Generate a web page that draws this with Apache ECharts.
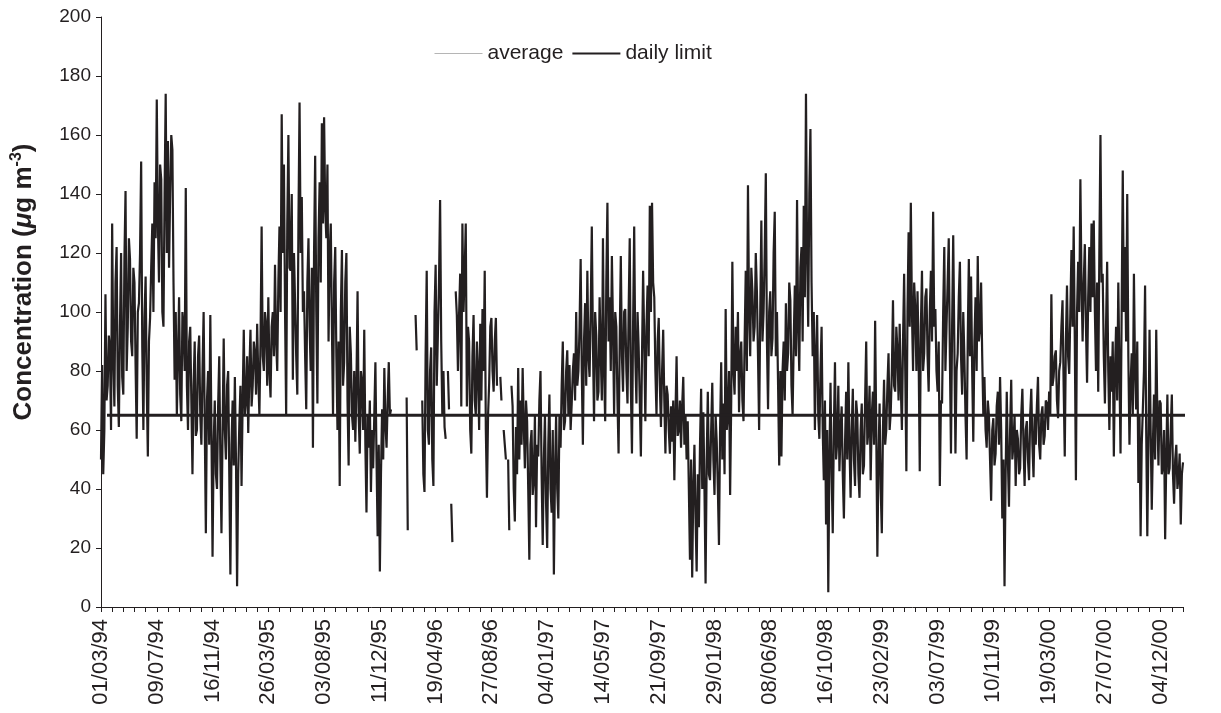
<!DOCTYPE html>
<html>
<head>
<meta charset="utf-8">
<script src="https://cdn.jsdelivr.net/npm/echarts@6.0.0/dist/echarts.min.js"></script>
<style>
  html, body { margin: 0; background: #fff; }
  #chart { width: 1221px; height: 713px; }
</style>
</head>
<body>
<div id="chart"></div>
<script>
// x axis: days since 01/03/94, minor tick every 26 days, label every 130
const TICK_DAYS = 26
const LABEL_DAYS = 130
const STEP = TICK_DAYS / 10 // one reading every 2.6 days
const tickLabels = ['01/03/94', '09/07/94', '16/11/94', '26/03/95', '03/08/95', '11/12/95', '19/04/96',
  '27/08/96', '04/01/97', '14/05/97', '21/09/97', '29/01/98', '08/06/98', '16/10/98', '23/02/99',
  '03/07/99', '10/11/99', '19/03/00', '27/07/00', '04/12/00']

// concentration readings (ug/m3), one block per labelled interval
const from010394 = [50, 82, 45, 60, 106, 70, 75, 92, 88, 60, 130, 85, 68, 110, 122, 75, 61, 95, 120, 78,
  72, 118, 141, 80, 95, 125, 118, 90, 85, 115, 110, 82, 57, 100, 103, 120, 151, 88, 60, 98,
  112, 75, 51, 90, 98, 115, 130, 100, 144, 125]
const from090794 = [172, 130, 110, 150, 145, 100, 95, 140, 174, 120, 158, 115, 140, 160, 155, 110, 77, 100, 65, 85,
  105, 72, 63, 100, 95, 80, 142, 75, 60, 90, 95, 70, 45, 75, 90, 58, 60, 85, 92, 65,
  55, 80, 100, 62, 25, 70, 80, 55, 99, 60]
const from161194 = [17, 55, 70, 45, 40, 68, 85, 50, 25, 60, 91, 60, 50, 75, 80, 45, 11, 55, 70, 48,
  78, 50, 7, 45, 62, 75, 41, 70, 94, 65, 70, 85, 59, 80, 94, 68, 75, 90, 86, 72,
  96, 78, 65, 90, 129, 85, 80, 100, 96, 75]
const from260395 = [105, 80, 71, 95, 100, 85, 116, 90, 80, 110, 129, 100, 167, 120, 150, 100, 65, 130, 160, 115,
  114, 140, 77, 120, 103, 85, 72, 130, 171, 120, 139, 100, 107, 85, 67, 110, 125, 95, 80, 115,
  54, 120, 153, 100, 69, 125, 144, 110, 164, 130]
const from030895 = [166, 135, 125, 150, 90, 120, 130, 95, 65, 110, 122, 85, 60, 90, 41, 100, 121, 75, 83, 110,
  120, 70, 48, 95, 86, 65, 60, 80, 56, 75, 107, 65, 52, 80, 76, 60, 94, 55, 32, 65,
  54, 70, 39, 60, 47, 65, 83, 50, 24, 55]
const from111295 = [12, 45, 67, 50, 81, 62, 54, 70, 83, 65, 67, null, null, null, null, null, null, null, null, null,
  null, null, null, null, 71, 26, null, null, null, null, null, null, 99, 87, null, null, null, null, 70, 45,
  39, 85, 114, 60, 55, 80, 88, 50, 41, 100]
const from190496 = [116, 75, 92, 110, 138, 90, 65, 80, 61, 57, null, 80, 67, null, 35, 22, null, null, 107, 99,
  80, 99, 113, 68, 130, 100, 113, 130, 68, 95, 90, 60, 52, 85, 99, 70, 65, 90, 80, 60,
  96, 70, 101, 80, 114, 60, 37, 65, 76, 95]
const from270896 = [98, 80, 73, 90, 98, 75, null, null, 78, 70, null, 60, 55, 50, null, 50, 26, null, 75, 68,
  40, 29, 61, 45, 81, 50, 70, 55, 81, 62, 47, 70, 63, 40, 16, 55, 60, 38, 43, 65,
  27, 55, 51, 70, 80, 45, 21, 50, 65, 35]
const from040197 = [20, 55, 72, 40, 32, 60, 11, 45, 65, 40, 30, 65, 54, 75, 90, 60, 63, 80, 87, 65,
  82, 60, 69, 80, 86, 70, 100, 75, 80, 95, 118, 80, 55, 90, 103, 75, 114, 85, 78, 100,
  129, 90, 63, 100, 92, 70, 73, 105, 86, 70]
const from140597 = [125, 80, 63, 110, 137, 90, 105, 80, 119, 95, 65, 100, 95, 70, 52, 90, 119, 85, 73, 100,
  101, 80, 69, 100, 125, 75, 52, 95, 129, 85, 69, 100, 88, 70, 51, 85, 114, 90, 63, 95,
  109, 85, 136, 100, 137, 110, 105, 80, 65, 90]
const from210997 = [98, 75, 61, 80, 94, 70, 52, 75, 72, 60, 52, 68, 56, 70, 43, 65, 85, 58, 60, 70,
  54, 68, 78, 55, 65, 50, 63, 40, 16, 50, 10, 40, 55, 30, 12, 45, 27, 55, 74, 40,
  66, 40, 8, 50, 73, 45, 43, 60, 76, 50]
const from290198 = [38, 65, 56, 40, 21, 60, 83, 50, 69, 45, 101, 60, 65, 80, 38, 70, 117, 80, 72, 95,
  80, 100, 66, 85, 90, 70, 63, 90, 114, 80, 143, 100, 85, 115, 107, 90, 95, 120, 107, 85,
  60, 100, 131, 90, 100, 120, 147, 90, 67, 100]
const from080698 = [107, 85, 91, 120, 134, 85, 100, 75, 48, 80, 51, 80, 90, 70, 103, 80, 86, 110, 104, 75,
  65, 90, 109, 85, 138, 95, 80, 115, 122, 90, 136, 105, 174, 120, 95, 140, 162, 110, 85, 100,
  60, 85, 99, 65, 57, 80, 95, 60, 43, 70]
const from161098 = [28, 60, 5, 50, 76, 45, 25, 60, 83, 50, 56, 75, 46, 60, 68, 45, 30, 55, 73, 50,
  83, 55, 37, 60, 74, 50, 41, 70, 65, 45, 37, 60, 69, 45, 48, 70, 90, 55, 60, 75,
  43, 65, 73, 55, 97, 60, 17, 50, 69, 40]
const from230299 = [25, 60, 77, 55, 60, 75, 86, 60, 66, 80, 104, 75, 73, 95, 87, 70, 96, 75, 60, 90,
  113, 80, 46, 100, 127, 95, 137, 100, 80, 110, 101, 80, 107, 85, 46, 95, 114, 80, 86, 105,
  108, 85, 73, 100, 114, 90, 134, 95, 101, 80]
const from030799 = [73, 90, 41, 70, 69, 100, 122, 80, 95, 110, 125, 85, 52, 95, 126, 90, 52, 80, 86, 105,
  117, 85, 72, 100, 85, 65, 50, 90, 118, 85, 112, 80, 56, 90, 105, 80, 119, 90, 94, 110,
  85, 65, 78, 60, 54, 70, 65, 50, 36, 60]
const from101199 = [64, 48, 52, 68, 73, 55, 78, 60, 30, 50, 7, 45, 73, 50, 34, 60, 77, 50, 55, 65,
  41, 60, 57, 45, 47, 65, 74, 55, 41, 60, 63, 50, 43, 65, 74, 55, 44, 65, 55, 68,
  78, 55, 50, 65, 68, 55, 58, 70, 69, 60]
const from190300 = [73, 65, 106, 75, 78, 85, 87, 70, 64, 80, 83, 95, 104, 75, 51, 90, 109, 85, 79, 100,
  121, 95, 129, 90, 43, 100, 117, 100, 145, 110, 90, 110, 123, 95, 76, 105, 122, 100, 130, 105,
  131, 100, 80, 110, 73, 120, 160, 110, 113, 85]
const from270700 = [69, 95, 117, 80, 60, 85, 73, 90, 51, 80, 95, 70, 110, 80, 52, 100, 148, 100, 122, 90,
  140, 85, 55, 75, 86, 65, 113, 80, 67, 90, 42, 65, 24, 55, 67, 80, 109, 60, 24, 55,
  94, 60, 33, 55, 72, 50, 94, 65, 48, 70]
const from041200 = [69, 45, 48, 60, 23, 50, 72, 45, 47, 60, 72, 45, 35, 50, 55, 40, 44, 52, 28, 45, 49]

const limitValue = 65
const limitDays = [14, 2600]

const average = [].concat(from010394, from090794, from161194, from260395, from030895, from111295,
  from190496, from270896, from040197, from140597, from210997, from290198, from080698, from161098,
  from230299, from030799, from101199, from190300, from270700, from041200)

const FONT = 'Liberation Sans, Arial, sans-serif'
const INK = '#231f20'

const chart = echarts.init(document.getElementById('chart'))
const option = {
  animation: false,
  backgroundColor: '#fff',
  grid: { left: 101, right: 38, top: 17, bottom: 106 },
  legend: {
    left: 429,
    top: 38,
    itemWidth: 48,
    itemHeight: 12,
    itemGap: 8,
    textStyle: { fontSize: 21, color: INK, fontFamily: FONT },
    data: [
      { name: 'average', itemStyle: { opacity: 0 }, lineStyle: { color: '#b5b5b5', width: 1 } },
      { name: 'daily limit', itemStyle: { opacity: 0 }, lineStyle: { color: INK, width: 2 } }
    ]
  },
  xAxis: {
    type: 'value',
    min: 0,
    max: 97 * TICK_DAYS,
    interval: TICK_DAYS,
    splitLine: { show: false },
    axisLine: { lineStyle: { color: INK, width: 1 } },
    axisTick: { length: 5, lineStyle: { color: INK } },
    axisLabel: {
      rotate: 90,
      margin: 12,
      fontSize: 22,
      color: INK,
      fontFamily: FONT,
      formatter: v => (v % LABEL_DAYS === 0 ? (tickLabels[v / LABEL_DAYS] || '') : '')
    }
  },
  yAxis: {
    type: 'value',
    min: 0,
    max: 200,
    interval: 20,
    splitLine: { show: false },
    axisLine: { show: true, lineStyle: { color: INK, width: 1 } },
    axisTick: { show: true, length: 5, lineStyle: { color: INK } },
    axisLabel: { margin: 10, fontSize: 19, color: INK, fontFamily: FONT },
    name: '{t|Concentration (}{mu|μ}{t|g m}{sup|-3}{t|)}',
    nameLocation: 'middle',
    nameRotate: 90,
    nameGap: 63,
    nameTextStyle: {
      padding: [0, 0, 0, 60],
      rich: {
        t: { fontSize: 26, fontWeight: 'bold', color: INK, fontFamily: FONT },
        mu: { fontSize: 26, fontWeight: 'bold', fontStyle: 'italic', color: INK, fontFamily: FONT },
        sup: { fontSize: 16, fontWeight: 'bold', color: INK, fontFamily: FONT, padding: [0, 0, 13, 0] }
      }
    }
  },
  series: [
    {
      name: 'average',
      type: 'line',
      symbol: 'none',
      connectNulls: false,
      lineStyle: { color: INK, width: 2.2 },
      data: average.map((v, i) => [i * STEP, v])
    },
    {
      name: 'daily limit',
      type: 'line',
      symbol: 'none',
      clip: false,
      lineStyle: { color: INK, width: 3 },
      data: limitDays.map(d => [d, limitValue])
    }
  ]
}
chart.setOption(option)
</script>
</body>
</html>
